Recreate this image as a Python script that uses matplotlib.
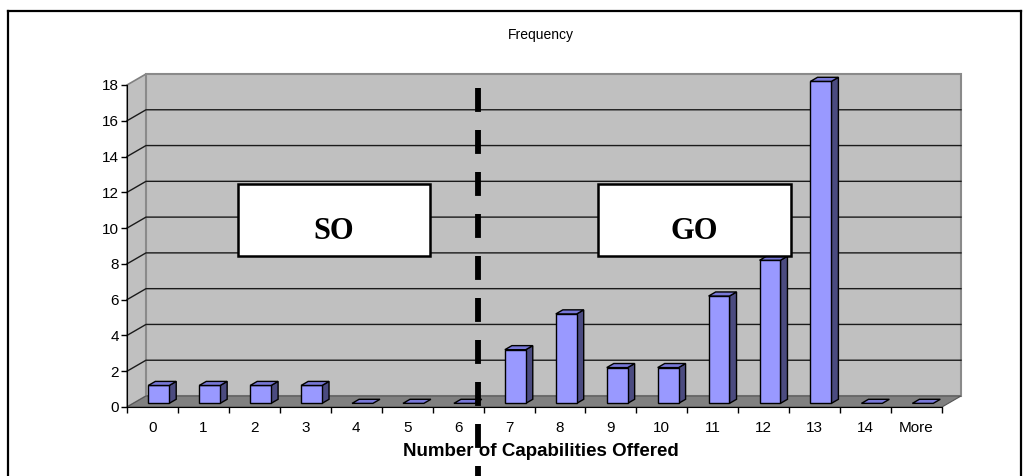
import matplotlib.pyplot as plt
from matplotlib.patches import Polygon, Rectangle
from matplotlib.lines import Line2D

# histogram data
categories = ["0", "1", "2", "3", "4", "5", "6", "7", "8", "9", "10",
              "11", "12", "13", "14", "More"]
frequency = [1, 1, 1, 1, 0, 0, 0, 3, 5, 2, 2, 6, 8, 18, 0, 0]
yticks = [0, 2, 4, 6, 8, 10, 12, 14, 16, 18]

# 3d look (in data units)
DX, DY = 0.373, 0.615     # full depth of the floor
FRONT = 0.33              # where the bars start in depth
BDEPTH = 0.37             # bar depth as fraction of full depth
BW = 0.41                 # bar width

front_col = "#9999FF"
side_col = "#4B4B80"
top_col = "#7878D8"
wall_col = "#C0C0C0"
floor_col = "#808080"

fig = plt.figure(figsize=(10.29, 4.76), dpi=100)
ax = fig.add_axes([127/1029, 69/476, 815/1029, 322/476])
n = len(categories)
ymax = yticks[-1]
ax.set_xlim(0, n)
ax.set_ylim(0, ymax)
ax.patch.set_visible(False)

# walls and floor
ax.add_patch(Polygon([(0, 0), (DX, DY), (DX, ymax + DY), (0, ymax)],
                     fc=wall_col, ec="#808080", lw=1.2, clip_on=False, zorder=0))
ax.add_patch(Polygon([(DX, DY), (n + DX, DY), (n + DX, ymax + DY), (DX, ymax + DY)],
                     fc=wall_col, ec="#8A8A8A", lw=1.5, clip_on=False, zorder=0))
ax.add_patch(Polygon([(0, 0), (n, 0), (n + DX, DY), (DX, DY)],
                     fc=floor_col, ec="#555555", lw=0.8, clip_on=False, zorder=0.5))

# gridlines on the side wall and the back wall
for t in yticks[1:-1]:
    ax.plot([0, DX, n + DX], [t, t + DY, t + DY], color="#1a1a1a", lw=1.0,
            clip_on=False, zorder=1)

# bars
for i, v in enumerate(frequency):
    xl = i + 0.5 - BW / 2 + FRONT * DX
    yb = FRONT * DY
    bx, by = BDEPTH * DX, BDEPTH * DY
    if v > 0:
        ax.add_patch(Polygon([(xl + BW, yb), (xl + BW + bx, yb + by),
                              (xl + BW + bx, yb + v + by), (xl + BW, yb + v)],
                             fc=side_col, ec="black", lw=1.0, zorder=3,
                             clip_on=False))
        ax.add_patch(Rectangle((xl, yb), BW, v, fc=front_col, ec="black",
                               lw=1.0, zorder=3, clip_on=False))
    ax.add_patch(Polygon([(xl, yb + v), (xl + BW, yb + v),
                          (xl + BW + bx, yb + v + by), (xl + bx, yb + v + by)],
                         fc=top_col, ec="black", lw=1.0, zorder=3,
                         clip_on=False))

# axes
for s in ["top", "right"]:
    ax.spines[s].set_visible(False)
ax.spines["left"].set_color("black")
ax.spines["bottom"].set_color("black")
ax.spines["left"].set_zorder(2)
ax.spines["bottom"].set_zorder(2)

ax.set_yticks(yticks)
ax.tick_params(axis="y", direction="out", length=4, width=1, pad=2,
               labelsize=11)
ax.set_xticks(range(n + 1))
ax.set_xticklabels([])
ax.set_xticks([i + 0.5 for i in range(n)], minor=True)
ax.set_xticklabels(categories, minor=True)
ax.tick_params(axis="x", which="major", direction="out", length=4, width=1)
ax.tick_params(axis="x", which="minor", length=0, pad=10, labelsize=11)
for lbl in ax.get_xticklabels(minor=True) + ax.get_yticklabels():
    lbl.set_fontfamily("Liberation Sans")

# SO / GO boxes
boxes = [("SO", 2.18, 8.44, 3.77, 4.02), ("GO", 9.25, 8.44, 3.78, 4.02)]
for txt, bx0, by0, bw, bh in boxes:
    ax.add_patch(Rectangle((bx0, by0), bw, bh, fc="white", ec="black",
                           lw=1.8, zorder=5, clip_on=False))
    ax.text(bx0 + bw / 2, by0 + 0.23 * bh, txt, ha="center", va="baseline",
            fontsize=22, fontweight="bold", family="Liberation Serif", zorder=6)

# separator between the two groups
sep = Line2D([6.9, 6.9], [17.83, -3.9], color="black", lw=4.2,
             dashes=(4.1, 3.1), solid_capstyle="butt", dash_capstyle="butt",
             clip_on=False, zorder=7)
ax.add_line(sep)

fig.text(541/1029, 1 - 35/476, "Frequency", ha="center", va="center",
         fontsize=10, family="Liberation Sans")
fig.text(541/1029, 1 - 451/476, "Number of Capabilities Offered", ha="center",
         va="center", fontsize=13.5, fontweight="bold", family="Liberation Sans")

# outer frame
for xs, ys in [([8/1029, 8/1029], [0, 1 - 11/476]),
               ([8/1029, 1021/1029], [1 - 11/476, 1 - 11/476]),
               ([1021/1029, 1021/1029], [1 - 11/476, 0])]:
    fig.add_artist(Line2D(xs, ys, color="black", lw=1.6))

fig.savefig("out.png", dpi=100)
